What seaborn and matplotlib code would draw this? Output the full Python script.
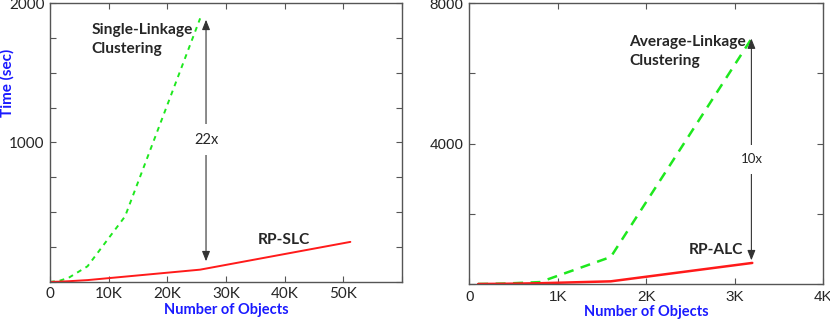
import pandas as pd
import seaborn as sns
import matplotlib.pyplot as plt

sns.set_theme(style="white")

# Left panel: single-linkage vs RP-SLC
slc_n = [0, 1600, 3200, 6400, 12800, 25600]
slc_time = [0, 8, 30, 112, 470, 1890]
rpslc_n = [0, 1600, 3200, 6400, 12800, 25600, 51200]
rpslc_time = [0, 2, 5, 13, 38, 88, 287]

# Right panel: average-linkage vs RP-ALC
alc_n = [100, 200, 400, 800, 1600, 3200]
alc_time = [1, 3, 12, 55, 770, 7020]
rpalc_n = [100, 200, 400, 800, 1600, 3200]
rpalc_time = [0, 2, 6, 22, 76, 600]

GREEN = "#1ee81e"
RED = "#ff1a1a"
BLUE = "#1a1aff"
LABEL_FONT = "Lato"

fig = plt.figure(figsize=(8.3, 3.2), dpi=100)
ax1 = fig.add_axes([0.0602, 0.119, 0.4241, 0.8716])
ax2 = fig.add_axes([0.5654, 0.1125, 0.4262, 0.878])

sns.lineplot(x=slc_n, y=slc_time, ax=ax1, color=GREEN, linestyle=(0, (2.5, 2.5)), lw=1.4)
sns.lineplot(x=rpslc_n, y=rpslc_time, ax=ax1, color=RED, lw=1.4)
sns.lineplot(x=alc_n, y=alc_time, ax=ax2, color=GREEN, linestyle=(0, (4, 3)), lw=1.8)
sns.lineplot(x=rpalc_n, y=rpalc_time, ax=ax2, color=RED, lw=1.8)

for ax in (ax1, ax2):
    for s in ax.spines.values():
        s.set_color("#555555")
        s.set_linewidth(1.0)
    ax.tick_params(direction="in", length=4, width=0.8, color="#555555",
                   top=True, right=True, bottom=True, left=True, pad=4,
                   labelsize=11)

# left axes
ax1.set_xlim(0, 60000)
ax1.set_ylim(0, 2000)
ax1.set_xticks([0, 10000, 20000, 30000, 40000, 50000, 60000])
ax1.set_xticklabels(["0", "10K", "20K", "30K", "40K", "50K", ""], family=LABEL_FONT)
ax1.set_yticks(range(0, 2001, 250))
ax1.set_yticklabels(["" if v not in (1000, 2000) else str(v) for v in range(0, 2001, 250)],
                    family=LABEL_FONT)
ax1.set_xlabel("Number of Objects", color=BLUE, fontweight="bold", family=LABEL_FONT,
               fontsize=10.5, labelpad=1)
fig.text(7 / 830, 1 - 83 / 320, "Time (sec)", rotation=90, ha="center", va="center",
         color=BLUE, fontweight="bold", family=LABEL_FONT, fontsize=11)

ax1.annotate("", xy=(26600, 1880), xytext=(26600, 148),
             arrowprops=dict(arrowstyle="<|-|>,head_length=0.5,head_width=0.2",
                             color="#333333", lw=0.8, shrinkA=0, shrinkB=0))
ax1.text(26600, 1020, "22x", ha="center", va="center", fontsize=10.5, family=LABEL_FONT,
         bbox=dict(facecolor="white", edgecolor="none", pad=6))
ax1.text(7100, 1860, "Single-Linkage\nClustering", ha="left", va="top", fontsize=11.2,
         fontweight="bold", family=LABEL_FONT, linespacing=1.5)
ax1.text(35400, 303, "RP-SLC", ha="left", va="center", fontsize=11.2,
         fontweight="bold", family=LABEL_FONT)

# right axes
ax2.set_xlim(0, 4000)
ax2.set_ylim(0, 8000)
ax2.set_xticks([0, 1000, 2000, 3000, 4000])
ax2.set_xticklabels(["0", "1K", "2K", "3K", "4K"], family="Liberation Sans")
ax2.set_yticks([0, 2000, 4000, 6000, 8000])
ax2.set_yticklabels(["", "", "4000", "", "8000"], family="Liberation Sans")
ax2.set_xlabel("Number of Objects", color=BLUE, fontweight="bold", family=LABEL_FONT,
               fontsize=10.5, labelpad=1)

ax2.annotate("", xy=(3190, 6990), xytext=(3190, 675),
             arrowprops=dict(arrowstyle="<|-|>,head_length=0.5,head_width=0.2",
                             color="#333333", lw=0.8, shrinkA=0, shrinkB=0))
ax2.text(3190, 3550, "10x", ha="center", va="center", fontsize=9.5, family=LABEL_FONT,
         bbox=dict(facecolor="white", edgecolor="none", pad=6))
ax2.text(1810, 7100, "Average-Linkage\nClustering", ha="left", va="top", fontsize=11.2,
         fontweight="bold", family=LABEL_FONT, linespacing=1.5)
ax2.text(2480, 960, "RP-ALC", ha="left", va="center", fontsize=11.2,
         fontweight="bold", family=LABEL_FONT)

fig.savefig("out.png", dpi=100)
